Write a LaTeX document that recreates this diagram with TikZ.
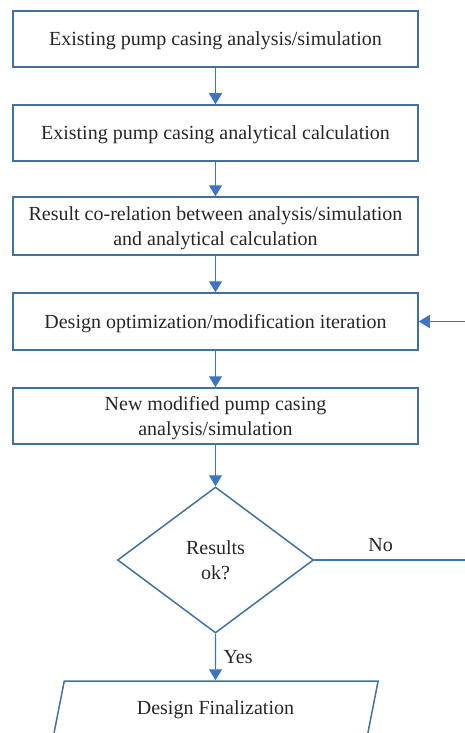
\documentclass[tikz,border=0pt]{standalone}
\usepackage{fontspec}
\setmainfont{Liberation Serif}
\usepackage{xcolor}
\usepackage{tikz}
\usetikzlibrary{shapes.geometric, arrows.meta, positioning}

\definecolor{boxblue}{RGB}{65,113,156}
\definecolor{linkblue}{RGB}{62,117,192}

\begin{document}
\begin{tikzpicture}[
  x=1pt, y=1pt,
  node distance=36.5pt,
  every node/.style={font=\fontsize{20}{25}\selectfont, text=black!85},
  box/.style={rectangle, draw=boxblue, line width=1.5pt, minimum width=405pt, minimum height=56pt, text depth=0pt, align=center},
  decision/.style={diamond, draw=boxblue, line width=1.5pt, minimum width=196pt, minimum height=146pt, inner sep=0pt, align=center},
  finalbox/.style={trapezium, trapezium left angle=76, trapezium right angle=104, trapezium stretches=true, draw=boxblue, line width=1.5pt, minimum width=326pt, minimum height=58pt},
  link/.style={-{Triangle[length=11pt,width=13pt]}, draw=linkblue, line width=1.4pt}
]
\clip (0,0) rectangle (465,-733);

% Process boxes
\node[box] (existsim) at (215.5,-39) {Existing pump casing analysis/simulation};
\node[box, below=of existsim] (existcalc) {Existing pump casing analytical calculation};
\node[box, below=34.5pt of existcalc, minimum height=58pt] (correl) {Result co-relation between analysis/simulation\\and analytical calculation};
\node[box, below=of correl, minimum height=57pt] (design) {Design optimization/modification iteration};
\node[box, below=of design] (newsim) {New modified pump casing\\analysis/simulation};

% Decision and end
\node[decision, below=41.5pt of newsim] (dec) {Results\\ok?};
\node[finalbox, below=46.5pt of dec] (final) {Design Finalization};

% Arrows
\draw[link] (existsim) -- (existcalc);
\draw[link] (existcalc) -- (correl);
\draw[link] (correl) -- (design);
\draw[link] (design) -- (newsim);
\draw[link] (newsim) -- (dec);
\draw[link] (dec) -- node[right=4pt] {Yes} (final);
\draw[link] (dec.east) -- node[above=4pt, pos=0.39] {No} ++(170,0) |- (design.east);
\end{tikzpicture}
\end{document}
